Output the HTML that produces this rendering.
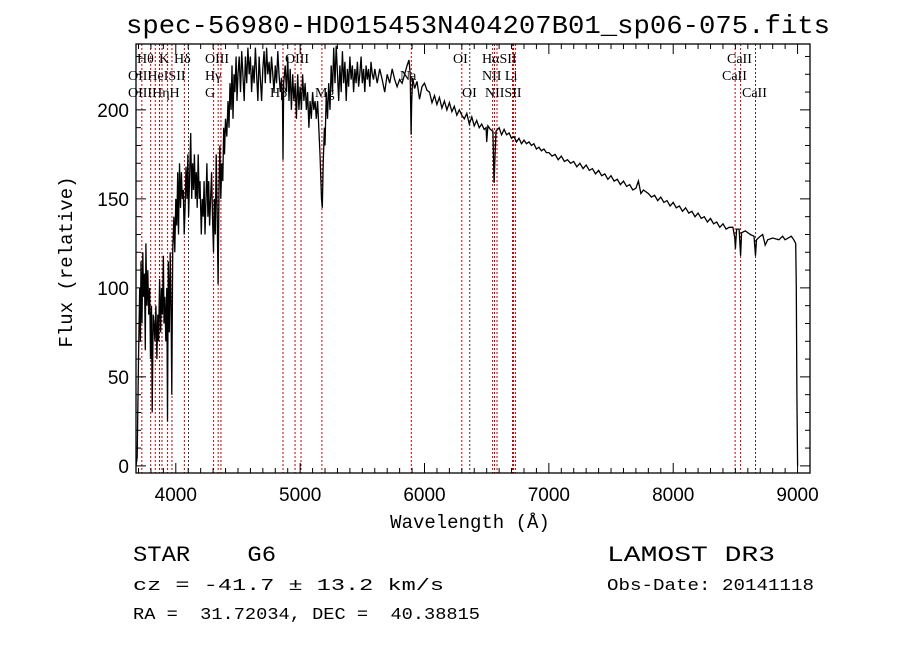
<!DOCTYPE html>
<html><head><meta charset="utf-8"><style>
html,body{margin:0;padding:0;background:#fff;}
svg{display:block;}
.t{font-family:"Liberation Serif",serif;}
.m{font-family:"Liberation Mono",monospace;white-space:pre;}
.s{font-family:"Liberation Sans",sans-serif;}
</style></head><body>
<svg id="chart" width="900" height="649" viewBox="0 0 900 649" xmlns="http://www.w3.org/2000/svg">
<rect width="900" height="649" fill="#fff"/>
<text class="m" x="126" y="33" font-size="26" textLength="704" lengthAdjust="spacingAndGlyphs">spec-56980-HD015453N404207B01_sp06-075.fits</text>
<g id="lines"></g>
<g id="spec"></g>
<g id="axes"></g>
<g class="t" font-size="14">
<text x="137" y="63">Hθ</text><text x="159" y="63">K</text><text x="174" y="63">Hδ</text><text x="205" y="63">OIII</text><text x="285" y="63">OIII</text><text x="453" y="63">OI</text><text x="482" y="63">HαSII</text><text x="727" y="63">CaII</text>
<text x="128" y="80">OIIHeISII</text><text x="205" y="80">Hγ</text><text x="400" y="80">Na</text><text x="482" y="80">NII Li</text><text x="722" y="80">CaII</text>
<text x="128" y="97">OIIIHηH</text><text x="205" y="97">G</text><text x="270" y="97">Hβ</text><text x="315" y="97">Mg</text><text x="462" y="97">OI</text><text x="485" y="97">NIISII</text><text x="742" y="97">CaII</text>
</g>
<text class="m" x="470" y="528" font-size="19" text-anchor="middle">Wavelength (Å)</text>
<text class="m" x="0" y="0" font-size="19" text-anchor="middle" transform="translate(72,262) rotate(-90)">Flux (relative)</text>
<text class="m" x="133" y="561" font-size="22" textLength="143" lengthAdjust="spacingAndGlyphs">STAR    G6</text>
<text class="m" x="133" y="590" font-size="17" textLength="311" lengthAdjust="spacingAndGlyphs">cz = -41.7 ± 13.2 km/s</text>
<text class="m" x="133" y="619" font-size="17" textLength="347" lengthAdjust="spacingAndGlyphs">RA =  31.72034, DEC =  40.38815</text>
<text class="m" x="607" y="561" font-size="22" textLength="168" lengthAdjust="spacingAndGlyphs">LAMOST DR3</text>
<text class="m" x="607" y="590" font-size="17" textLength="207" lengthAdjust="spacingAndGlyphs">Obs-Date: 20141118</text>
</svg>
<script>
const wavelengthsBlue=[3680,3690,3700,3710,3715,3720,3728,3735,3740,3748,3755,3760,3768,3775,3782,3790,3797,3805,3810,3818,3825,3832,3840,3848,3855,3862,3870,3878,3885,3892,3900,3905,3912,3920,3928,3933,3940,3948,3955,3962,3968,3975,3985,3992,4000,4008,4015,4022,4030,4038,4045,4052,4060,4068,4075,4082,4090,4097,4103,4110,4120,4128,4135,4142,4150,4158,4165,4172,4180,4188,4195,4205,4212,4220,4228,4235,4243,4250,4258,4265,4272,4280,4288,4295,4303,4310,4318,4325,4332,4340,4348,4355,4362,4370,4378,4385,4392,4400,4410,4420,4428,4436,4445,4452,4460,4468,4475,4485,4492,4500,4510,4520,4530,4540,4550,4560,4570,4580,4590,4600,4610,4620,4630,4640,4650,4660,4670,4680,4690,4700,4710,4720,4730,4740,4750,4760,4770,4780,4790,4800,4810,4820,4830,4840,4850,4858,4862,4868,4880,4890,4900,4910,4920,4930,4940,4950,4960,4970,4980,4990,5000,5010,5020,5030,5040,5050,5060,5070,5080,5090,5100,5110,5120,5130,5140,5150,5160,5167,5172,5178,5185,5195,5200,5210,5220,5230,5240,5250,5260,5270,5280,5290,5300,5310,5320,5330,5340,5350,5360,5370,5380,5390,5400,5410,5420,5430,5440,5450,5460,5470,5480,5490,5500,5510,5520,5530,5540,5550,5560,5570,5580,5590,5600,5620,5640,5660,5680,5700,5720,5740,5760,5780,5800,5820,5840,5860,5875,5885,5892,5897];
const fluxBlue=[0,5,60,100,70,115,80,120,95,108,65,125,90,110,85,100,60,90,30,85,80,70,90,60,85,70,105,75,100,85,118,80,95,70,100,25,115,75,120,85,40,120,140,120,150,135,165,130,170,145,165,150,155,130,145,168,150,175,140,160,187,150,170,155,175,150,165,145,175,150,160,130,150,140,160,130,150,170,140,160,135,150,165,140,120,150,130,175,145,102,160,180,150,170,160,190,175,195,185,205,190,215,200,225,195,220,210,230,205,220,230,210,233,220,205,230,215,235,220,230,210,225,215,235,220,205,230,217,205,223,233,215,235,220,227,215,230,220,210,225,215,233,220,210,218,205,172,215,225,210,230,205,223,200,220,205,215,195,220,200,213,200,220,205,215,200,210,190,205,195,210,200,205,195,205,190,175,160,150,145,170,190,180,210,195,215,200,225,210,235,215,236,220,205,225,210,233,215,227,205,223,213,230,217,225,210,223,215,227,213,220,230,215,223,210,225,217,223,213,227,220,217,223,215,223,217,210,220,215,223,217,213,217,215,220,225,228,220,186,205];
const wavelengthsRed=[5905,5920,5940,5960,5980,6000,6020,6040,6060,6080,6100,6120,6140,6160,6180,6200,6220,6240,6260,6280,6300,6320,6340,6360,6380,6400,6420,6440,6460,6480,6495,6500,6510,6530,6550,6560,6566,6575,6600,6620,6640,6660,6680,6700,6720,6740,6760,6780,6800,6820,6840,6860,6880,6900,6920,6940,6960,6980,7000,7025,7050,7075,7100,7125,7150,7175,7200,7225,7250,7275,7300,7325,7350,7375,7400,7425,7450,7475,7500,7525,7550,7575,7600,7625,7650,7675,7700,7720,7740,7760,7800,7825,7850,7875,7900,7925,7950,7975,8000,8025,8050,8075,8100,8125,8150,8175,8200,8225,8250,8275,8300,8325,8350,8375,8400,8425,8450,8480,8495,8500,8510,8530,8542,8550,8580,8620,8650,8662,8670,8700,8720,8740,8760,8800,8850,8880,8900,8950,8970,8985,8990,8995,9000];
const fluxRed=[218,212,216,206,213,215,211,210,204,208,203,207,201,205,200,204,199,202,197,200,197,195,198,192,196,191,194,190,192,189,190,182,191,189,188,159,172,188,190,186,189,186,187,184,185,182,184,181,183,181,182,180,181,178,179,177,178,176,176,174,175,172,174,171,172,170,171,168,170,167,169,166,167,164,166,163,164,161,163,160,161,158,160,157,158,155,156,160,153,155,153,151,152,149,151,148,149,146,148,145,146,143,145,142,143,140,142,139,140,137,139,136,137,134,136,133,134,134,128,122,133,133,118,131,132,130,129,118,127,129,130,124,127,128,127,129,127,129,127,125,100,40,0];
const wavelengths=wavelengthsBlue.concat(wavelengthsRed);
const fluxValues=fluxBlue.concat(fluxRed);
const X0=136,X1=810,Y0=44,Y1=473,WMIN=3680,WMAX=9100,FMIN=-4,FMAX=237;
const xs=w=>X0+(w-WMIN)/(WMAX-WMIN)*(X1-X0);
const ys=f=>Y1-(f-FMIN)/(FMAX-FMIN)*(Y1-Y0);
const NS='http://www.w3.org/2000/svg';
function mk(tag,attrs,parent){const e=document.createElementNS(NS,tag);for(const k in attrs)e.setAttribute(k,attrs[k]);parent.appendChild(e);return e;}
const lineWl=[3727,3798,3835,3869,3889,3934,3969,4069,4102,4304,4341,4363,4862,4959,5007,5175,5894,6300,6364,6548,6563,6583,6708,6716,6731,8498,8542,8662];
const lineDark=[0,0,0,0,0,0,0,0,1,0,0,0,0,0,0,0,0,0,1,0,0,0,0,0,0,0,0,1];
const lg=document.getElementById('lines');
lineWl.forEach((w,i)=>{const l=mk('line',{x1:xs(w),x2:xs(w),y1:Y0,y2:Y1,stroke:lineDark[i]?'#333':'#c00000','stroke-width':1,'stroke-dasharray':'2,2'},lg);

});
const sg=document.getElementById('spec');
const clip=mk('clipPath',{id:'pc'},sg);mk('rect',{x:X0,y:Y0,width:X1-X0,height:Y1-Y0},clip);
let d='';const n=Math.min(wavelengths.length,fluxValues.length);
for(let i=0;i<n;i++){d+=(i?'L':'M')+xs(wavelengths[i]).toFixed(1)+' '+ys(fluxValues[i]).toFixed(1);}
const p=mk('path',{d:d,fill:'none',stroke:'#000','stroke-width':1.3,'clip-path':'url(#pc)'},sg);


const ag=document.getElementById('axes');
const fr=mk('rect',{x:X0,y:Y0,width:X1-X0,height:Y1-Y0,fill:'none',stroke:'#000','stroke-width':1.3},ag);


const xTicks=[4000,5000,6000,7000,8000,9000];
for(let w=3700;w<=9100;w+=100){const x=xs(w);const len=(w%1000===0)?10:5;
mk('line',{x1:x,x2:x,y1:Y1,y2:Y1-len,stroke:'#000'},ag);mk('line',{x1:x,x2:x,y1:Y0,y2:Y0+len,stroke:'#000'},ag);}
xTicks.forEach(w=>{const t=mk('text',{x:xs(w),y:Y1+28,'font-size':19,'text-anchor':'middle',class:'s'},ag);t.textContent=w;

});
const yTicks=[0,50,100,150,200];
for(let f=0;f<=230;f+=10){const y=ys(f);const len=(f%50===0)?10:5;
mk('line',{x1:X0,x2:X0+len,y1:y,y2:y,stroke:'#000'},ag);mk('line',{x1:X1,x2:X1-len,y1:y,y2:y,stroke:'#000'},ag);}
yTicks.forEach(f=>{const t=mk('text',{x:X0-7,y:ys(f)+7,'font-size':19,'text-anchor':'end',class:'s'},ag);t.textContent=f;

});
</script>
</body></html>
